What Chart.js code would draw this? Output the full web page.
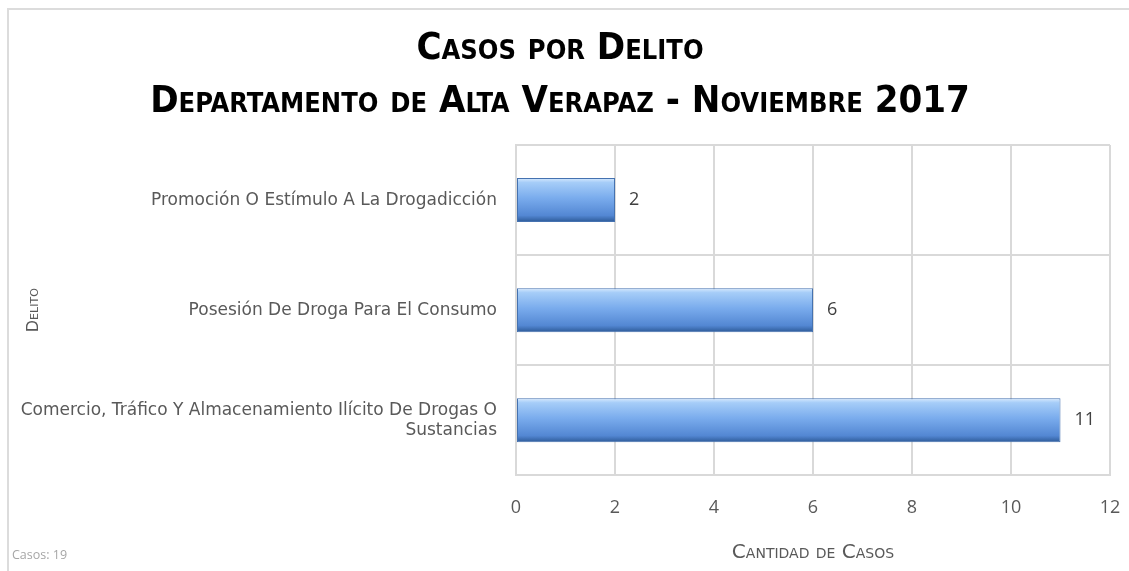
<!DOCTYPE html>
<html>
<head>
<meta charset="utf-8">
<script src="https://cdn.jsdelivr.net/npm/chart.js@4/dist/chart.umd.min.js"></script>
<style>
  html, body { margin: 0; padding: 0; background: #fff; }
  #wrap { position: relative; width: 1129px; height: 571px; }
</style>
</head>
<body>
<div id="wrap"><canvas id="casos-chart"></canvas></div>
<script>
const categorias = [
    'Promoción O Estímulo A La Drogadicción',
    'Posesión De Droga Para El Consumo',
    ['Comercio, Tráfico Y Almacenamiento Ilícito De Drogas O', 'Sustancias']
];
const casos = [2, 6, 11];
const tituloLineas = ['Casos por Delito', 'Departamento de Alta Verapaz - Noviembre 2017'];
const totalTexto = 'Casos: 19';

const grisTexto = '#595959';
const grisGrid = '#d9d9d9';

// gradient per bar, built from the category scale so each bar gets its own band
const barGradient = function (ctx) {
    const chart = ctx.chart;
    const yScale = chart.scales.y;
    if (!yScale || ctx.dataIndex === undefined) return '#6a9de4';
    const yc = yScale.getPixelForValue(ctx.dataIndex);
    if (!isFinite(yc)) return '#6a9de4';
    const half = 22;
    const g = chart.ctx.createLinearGradient(0, yc - half, 0, yc + half);
    g.addColorStop(0, '#d6e9fe');
    g.addColorStop(0.1, '#a6cdf8');
    g.addColorStop(0.45, '#7aaced');
    g.addColorStop(0.85, '#5387d3');
    g.addColorStop(1, '#2c5996');
    return g;
};

const valueLabels = {
    id: 'valueLabels',
    afterDatasetsDraw(chart) {
        const ctx = chart.ctx;
        ctx.save();
        ctx.font = '18px "Open Sans", sans-serif';
        ctx.fillStyle = '#404040';
        ctx.textAlign = 'left';
        ctx.textBaseline = 'middle';
        chart.getDatasetMeta(0).data.forEach((bar, i) => {
            ctx.fillText(String(casos[i]), bar.x + 14, bar.y);
        });
        ctx.restore();
    }
};

const frameAndFooter = {
    id: 'frameAndFooter',
    afterDraw(chart) {
        const ctx = chart.ctx;
        ctx.save();
        ctx.strokeStyle = '#dcdcdc';
        ctx.lineWidth = 2;
        ctx.beginPath();
        ctx.moveTo(8, chart.height);
        ctx.lineTo(8, 9);
        ctx.lineTo(chart.width, 9);
        ctx.stroke();
        ctx.font = '12.5px "Open Sans", sans-serif';
        ctx.fillStyle = '#a6a6a6';
        ctx.textAlign = 'left';
        ctx.textBaseline = 'middle';
        ctx.fillText(totalTexto, 12, 555);
        ctx.restore();
    }
};

new Chart('casos-chart', {
    type: 'bar',
    data: {
        labels: categorias,
        datasets: [{
            data: casos,
            backgroundColor: barGradient,
            borderColor: '#4572b0',
            borderWidth: 1,
            borderSkipped: false,
            categoryPercentage: 1,
            barPercentage: 0.4
        }]
    },
    options: {
        indexAxis: 'y',
        responsive: true,
        maintainAspectRatio: false,
        animation: false,
        layout: { padding: { left: 10, right: 19, top: 13, bottom: 3 } },
        plugins: {
            legend: { display: false },
            tooltip: { enabled: false },
            title: {
                display: true,
                text: tituloLineas,
                color: '#000',
                font: { family: '"Liberation Sans Narrow", "DejaVu Sans Condensed", sans-serif', size: 38, weight: 'small-caps bold', lineHeight: 1.395 },
                padding: { top: 10, bottom: 16 }
            }
        },
        scales: {
            x: {
                min: 0,
                max: 12,
                afterFit: function (scale) { scale.paddingRight = 0; scale.paddingLeft = 0; },
                ticks: { stepSize: 2, color: grisTexto, padding: 22, font: { family: '"Open Sans", sans-serif', size: 18 } },
                grid: { color: grisGrid, lineWidth: 2, drawTicks: false },
                border: { color: grisGrid, width: 2 },
                title: {
                    display: true,
                    text: 'Cantidad de Casos',
                    color: grisTexto,
                    font: { family: '"DejaVu Sans", sans-serif', size: 20, weight: 'small-caps normal' },
                    padding: { top: 0, bottom: 3 }
                }
            },
            y: {
                afterFit: function (scale) { scale.width = 506; },
                ticks: { color: grisTexto, padding: 19, font: { family: '"DejaVu Sans", sans-serif', size: 17 } },
                grid: { color: grisGrid, lineWidth: 2, drawTicks: false },
                border: { color: grisGrid, width: 2 },
                title: {
                    display: true,
                    text: 'Delito',
                    color: grisTexto,
                    font: { family: '"DejaVu Sans", sans-serif', size: 16, weight: 'small-caps normal' },
                    padding: { top: 14, bottom: 0 }
                }
            }
        }
    },
    plugins: [valueLabels, frameAndFooter]
});
</script>
</body>
</html>
